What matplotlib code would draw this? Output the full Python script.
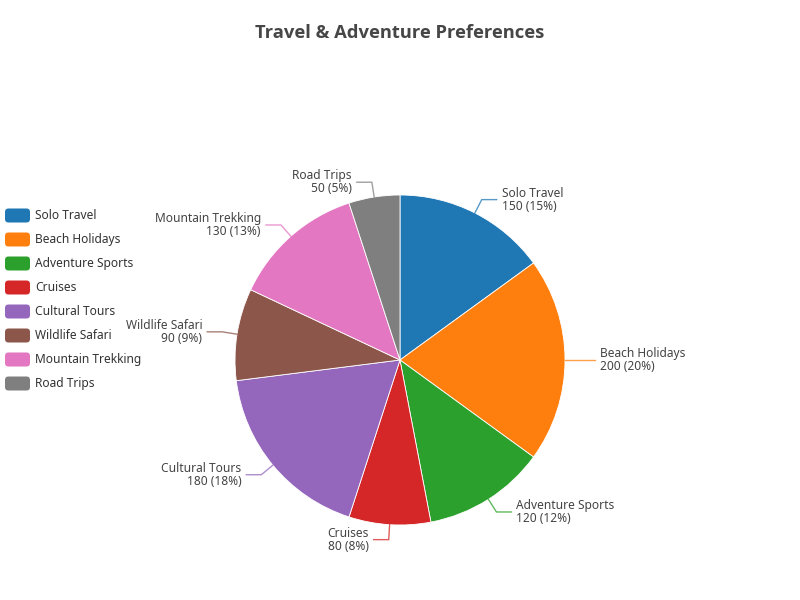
"""
Travel & Adventure Preferences - pie chart with leader-line labels
"""
import numpy as np
import matplotlib.pyplot as plt
from matplotlib.patches import FancyBboxPatch

plt.rcParams['font.family'] = ['Noto Sans', 'DejaVu Sans']

categories = ['Solo Travel', 'Beach Holidays', 'Adventure Sports', 'Cruises',
              'Cultural Tours', 'Wildlife Safari', 'Mountain Trekking', 'Road Trips']
values = [150, 200, 120, 80, 180, 90, 130, 50]
colors = ['#1f77b4', '#ff7f0e', '#2ca02c', '#d62728',
          '#9467bd', '#8c564b', '#e377c2', '#7f7f7f']

W, H = 800, 600
CX, CY, R = 400, 240, 165   # pie centre / radius in pixel units (y up)
LEN1, LEN2, GAP = 15, 15, 5  # leader line pieces


def main():
    fig = plt.figure(figsize=(8, 6), dpi=100)
    ax = fig.add_axes([0, 0, 1, 1])
    ax.set_xlim(0, W)
    ax.set_ylim(0, H)
    ax.set_aspect('equal')
    ax.axis('off')

    ax.pie(values, colors=colors, startangle=90, counterclock=False,
           center=(CX, CY), radius=R,
           wedgeprops=dict(edgecolor='white', linewidth=0.6))
    ax.set_xlim(0, W)
    ax.set_ylim(0, H)

    total = float(sum(values))
    start = 90.0
    for name, v, c in zip(categories, values, colors):
        sweep = v / total * 360.0
        mid = np.radians(start - sweep / 2)
        start -= sweep
        cx, sy = np.cos(mid), np.sin(mid)
        x0, y0 = CX + R * cx, CY + R * sy
        x1, y1 = CX + (R + LEN1) * cx, CY + (R + LEN1) * sy
        side = 1 if cx >= 0 else -1
        x2 = x1 + side * LEN2
        ax.plot([x0, x1, x2], [y0, y1, y1], color=c, lw=1, alpha=0.75,
                solid_joinstyle='miter')
        pct = int(round(v / total * 100))
        ax.text(x2 + side * GAP, y1, '%s\n%d (%d%%)' % (name, v, pct),
                ha='left' if side > 0 else 'right', va='center',
                multialignment='left' if side > 0 else 'right',
                fontsize=8.6, color='#444444', linespacing=1.0)

    # legend on the left
    for i, (name, c) in enumerate(zip(categories, colors)):
        yc = H - (215.5 + i * 24)
        box = FancyBboxPatch((5, yc - 7), 25, 14,
                             boxstyle='round,pad=0,rounding_size=3.5',
                             fc=c, ec='none')
        ax.add_patch(box)
        ax.text(35, yc, name, ha='left', va='center',
                fontsize=8.6, color='#333333')

    ax.text(400, H - 33, 'Travel & Adventure Preferences', ha='center',
            va='center', fontsize=13.2, fontweight='bold', color='#464646',
            family=['Open Sans', 'DejaVu Sans'])

    fig.savefig('out.png', dpi=100)


main()
